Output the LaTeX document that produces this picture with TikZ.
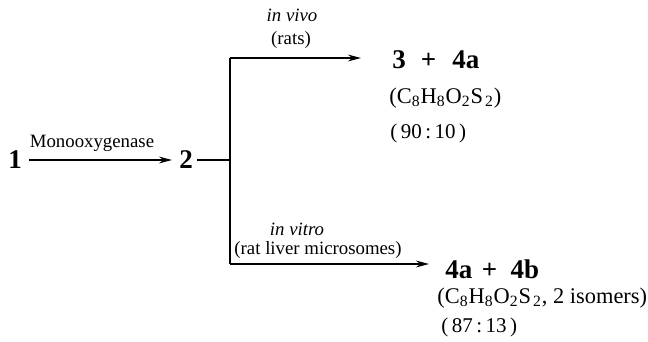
\documentclass[tikz,border=0pt]{standalone}
\usepackage{fontspec}
\setmainfont{Liberation Serif}
\usetikzlibrary{arrows.meta}
\tikzset{
  lbl/.style={inner sep=0pt, font=\fontsize{9.4}{11}\selectfont},
  cmpd/.style={inner sep=0pt, font=\fontsize{13.5}{15}\selectfont\bfseries},
  formula/.style={inner sep=0pt, anchor=west, font=\fontsize{11.2}{13}\selectfont},
  ratio/.style={inner sep=0pt, anchor=west, font=\fontsize{10.5}{12}\selectfont},
  rxn/.style={line width=0.85pt, -{Stealth[length=6.5pt,width=3.4pt]}},
  plain/.style={line width=0.85pt}
}
\newcommand{\sbs}[1]{\textsubscript{#1}}
\begin{document}
\begin{tikzpicture}[x=0.5pt,y=-0.5pt]
\useasboundingbox (0,0) rectangle (648,342);
% compounds
\node[cmpd] (n1) at (15,160) {1};
\node[cmpd] (n2) at (186,160) {2};
\node[lbl] (mono) at (92,143) {Monooxygenase};
\draw[rxn] (29,160) coordinate (a1) -- (172,160) coordinate (a2);
% branch
\coordinate (j) at (230,160);
\coordinate (jt) at (230,58);
\coordinate (jb) at (230,264);
\coordinate (tipA) at (361,58);
\coordinate (tipB) at (429,264);
\draw[plain] (n2.east) ++(4,0) coordinate (b0) -- (j);
\draw[plain] (jt) -- (jb);
\draw[rxn] (jt) -- (tipA);
\draw[rxn] (jb) -- (tipB);
% top labels
\node[lbl, font=\fontsize{9.4}{11}\selectfont\itshape] (vivo) at (292,15) {in vivo};
\node[lbl] (rats) at (291,40) {(rats)};
% bottom labels
\node[lbl, font=\fontsize{9.4}{11}\selectfont\itshape] (vitro) at (297,229) {in vitro};
\node[lbl] (micro) at (318,250) {(rat liver microsomes)};
% products top
\node[cmpd, anchor=west] (p1) at (392,60) {3\hspace{0.55em}+\hspace{0.6em}4a};
\node[formula] (f1) at (389,98) {(C\sbs{8}H\sbs{8}O\sbs{2}S\hspace{1pt}\sbs{2})};
\node[ratio] (r1) at (390,133) {(\,90\,:\,10\,)};
% products bottom
\node[cmpd, anchor=west] (p2) at (445,269) {4a\hspace{0.35em}+\hspace{0.5em}4b};
\node[formula] (f2) at (437,298) {(C\sbs{8}H\sbs{8}O\sbs{2}S\hspace{1pt}\sbs{2}, 2 isomers)};
\node[ratio] (r2) at (441,327) {(\,87\,:\,13\,)};
\end{tikzpicture}
\end{document}
